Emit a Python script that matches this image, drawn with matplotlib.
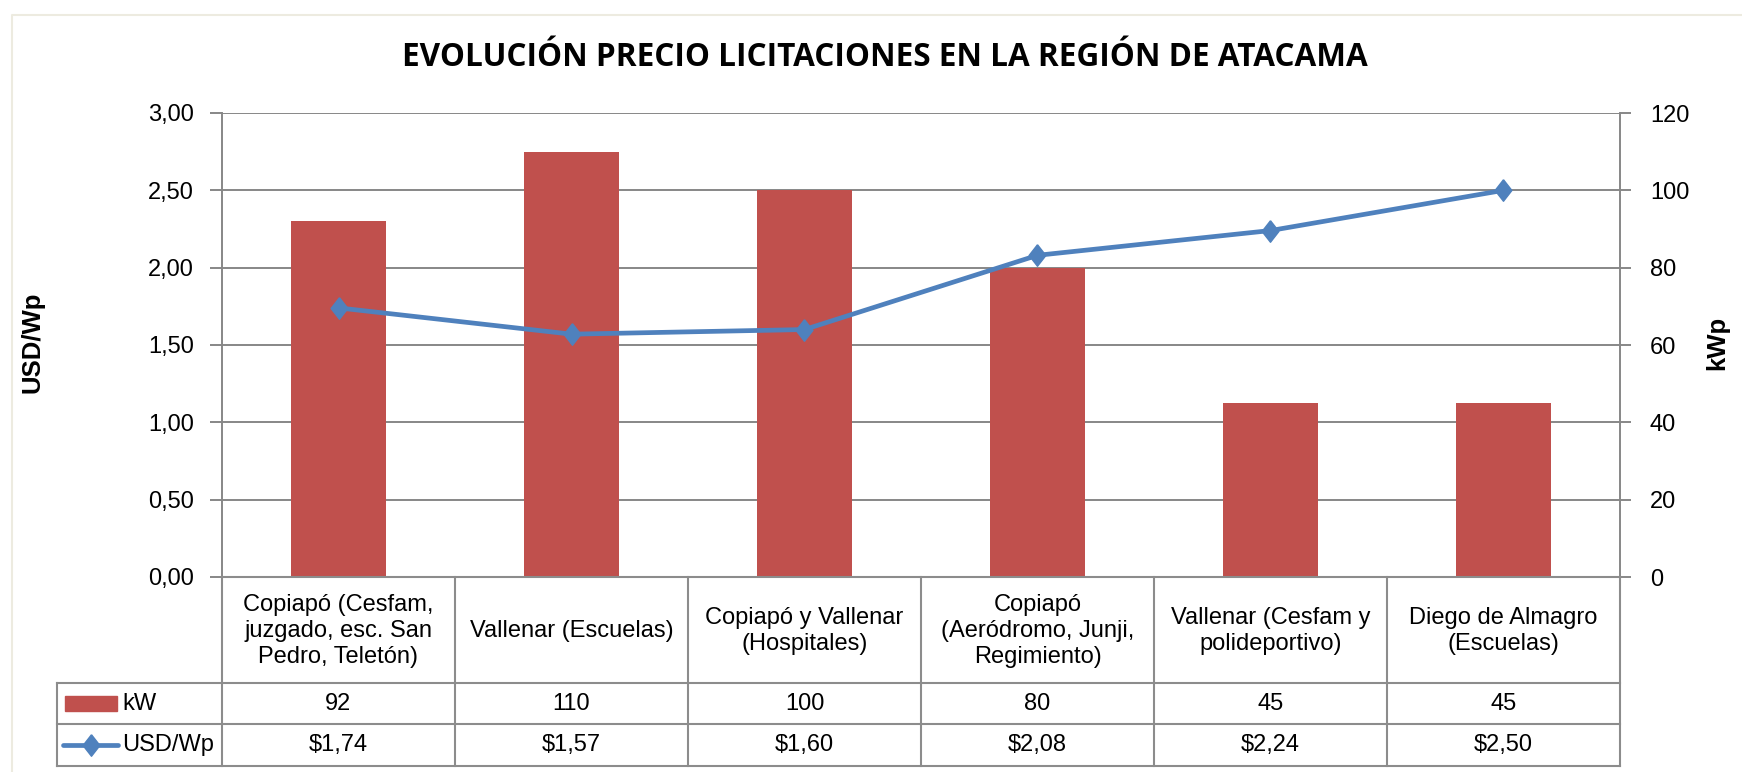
import matplotlib
matplotlib.use("Agg")
import matplotlib.pyplot as plt
import matplotlib.font_manager as fm
from matplotlib.transforms import blended_transform_factory
from matplotlib.lines import Line2D
from matplotlib.patches import Rectangle

# ---------------- data ----------------
categories = [
    "Copiapó (Cesfam,\njuzgado, esc. San\nPedro, Teletón)",
    "Vallenar (Escuelas)",
    "Copiapó y Vallenar\n(Hospitales)",
    "Copiapó\n(Aeródromo, Junji,\nRegimiento)",
    "Vallenar (Cesfam y\npolideportivo)",
    "Diego de Almagro\n(Escuelas)",
]
kw_values = [92, 110, 100, 80, 45, 45]
usd_values = [1.74, 1.57, 1.60, 2.08, 2.24, 2.50]
left_ticks = [0, 0.5, 1.0, 1.5, 2.0, 2.5, 3.0]
right_ticks = [0, 20, 40, 60, 80, 100, 120]
title = "EVOLUCIÓN PRECIO LICITACIONES EN LA REGIÓN DE ATACAMA"
series_names = ["kW", "USD/Wp"]
left_label = "USD/Wp"
right_label = "kWp"

# ---------------- fonts ----------------
BODY = ["Liberation Sans", "DejaVu Sans"]
TFONT, TSTRETCH = "Liberation Sans", "normal"
names = {f.name for f in fm.fontManager.ttflist}
cond = [(f.name, f.stretch) for f in fm.fontManager.ttflist
        if str(f.stretch) in ("condensed", "semi-condensed", "extra-condensed")]
if "Liberation Sans Narrow" in names:
    TFONT = "Liberation Sans Narrow"
else:
    for pref in ("Roboto", "Open Sans", "DejaVu Sans", "Noto Sans"):
        hits = [c for c in cond if c[0] == pref]
        if hits:
            TFONT, TSTRETCH = pref, hits[0][1]
            break
plt.rcParams["font.family"] = BODY

BAR = "#C0504D"
LINE = "#4F81BD"
GRID = "#878787"
TXT = "#000000"
FS = 17

W, H = 1742, 772
fig = plt.figure(figsize=(W / 100, H / 100), dpi=100)
fig.patch.set_facecolor("white")

def fx(px):
    return px / W

def fy(py):
    return 1 - py / H

# outer chart border (left + top visible)
fig.add_artist(Line2D([fx(12), fx(12), fx(1742)], [fy(772), fy(15), fy(15)],
                      transform=fig.transFigure, color="#EDEBE0", lw=1.5))

L, R, T, B = 222, 1620, 113, 577
ax = fig.add_axes([fx(L), fy(B), fx(R) - fx(L), fy(T) - fy(B)])
x = list(range(len(categories)))

# bars on kW scale
ax.bar(x, kw_values, width=0.41, color=BAR, zorder=3)
ax.set_ylim(0, 120)
ax.set_xlim(-0.5, len(categories) - 0.5)
ax.set_xticks([])
ax.grid(axis="y", color=GRID, lw=1.4, zorder=0)
ax.set_axisbelow(True)
for s in ("top", "bottom"):
    ax.spines[s].set_visible(False)
for s in ("left", "right"):
    ax.spines[s].set_color(GRID)
    ax.spines[s].set_linewidth(1.4)

# line on USD scale
ax2 = ax.twinx()
diamond = [(0, 1), (0.78, 0), (0, -1), (-0.78, 0), (0, 1)]
ax2.plot(x, usd_values, color=LINE, lw=3.4, marker=diamond, markersize=15.5,
         markerfacecolor=LINE, markeredgecolor=LINE, zorder=5)
ax2.set_ylim(0, 3)
for s in ax2.spines.values():
    s.set_visible(False)

# axis placement (after twinx)
ax.yaxis.tick_right()
ax.set_yticks(right_ticks)
ax.set_yticklabels([str(t) for t in right_ticks])
ax.tick_params(axis="y", direction="out", length=8, width=1.4, color=GRID,
               labelsize=FS, pad=13.5, labelcolor=TXT)
ax2.yaxis.tick_left()
ax2.set_yticks(left_ticks)
ax2.set_yticklabels([f"{t:.2f}".replace(".", ",") for t in left_ticks])
ax2.tick_params(axis="y", direction="out", length=9, width=1.4, color=GRID,
                labelsize=FS, pad=11, labelcolor=TXT)

# axis titles
fig.text(fx(33), fy(342), left_label, rotation=90, ha="center", va="center",
         fontsize=18.5, fontweight="bold", color=TXT)
fig.text(fx(1717), fy(343), right_label, rotation=90, ha="center", va="center",
         fontsize=18.5, fontweight="bold", color=TXT)

# title
fig.text(fx(885), fy(57), title, ha="center", va="center", fontsize=22.7,
         fontweight="bold", family=[TFONT, "DejaVu Sans"], fontstretch=TSTRETCH,
         color=TXT)

# ---------------- data table ----------------
tr = blended_transform_factory(ax.transData, fig.transFigure)
row_y = [577, 683, 724, 766]
TL = 57
tcol = "#8C8C8C"
tlw = 1.5
for i, ry in enumerate(row_y):
    x0 = fx(L) if i == 0 else fx(TL)
    fig.add_artist(Line2D([x0, fx(R)], [fy(ry), fy(ry)], transform=fig.transFigure,
                          color=tcol, lw=tlw))
for b in range(len(categories) + 1):
    fig.add_artist(Line2D([b - 0.5, b - 0.5], [fy(row_y[0]), fy(row_y[-1])],
                          transform=tr, color=tcol, lw=tlw))
fig.add_artist(Line2D([fx(TL), fx(TL)], [fy(row_y[1]), fy(row_y[-1])],
                      transform=fig.transFigure, color=tcol, lw=tlw))

for i, cat in enumerate(categories):
    fig.text(i, fy((row_y[0] + row_y[1]) / 2 + 1), cat, transform=tr, ha="center",
             va="center", fontsize=FS, linespacing=1.22, color=TXT)
    fig.text(i, fy((row_y[1] + row_y[2]) / 2), str(kw_values[i]), transform=tr,
             ha="center", va="center", fontsize=FS, color=TXT)
    fig.text(i, fy((row_y[2] + row_y[3]) / 2), "$" + f"{usd_values[i]:.2f}".replace(".", ","),
             transform=tr, ha="center", va="center", fontsize=FS, color=TXT)

# legend keys inside the table
ky1 = (row_y[1] + row_y[2]) / 2
fig.add_artist(Rectangle((fx(65), fy(ky1 + 7.5)), fx(117) - fx(65), fy(ky1 - 7.5) - fy(ky1 + 7.5),
                         transform=fig.transFigure, color=BAR))
fig.text(fx(122), fy(ky1), series_names[0], ha="left", va="center", fontsize=FS, color=TXT)
ky2 = (row_y[2] + row_y[3]) / 2
fig.add_artist(Line2D([fx(63), fx(118)], [fy(ky2), fy(ky2)], transform=fig.transFigure,
                      color=LINE, lw=3.4, solid_capstyle="round"))
fig.add_artist(Line2D([fx(91)], [fy(ky2)], transform=fig.transFigure,
                      color=LINE, marker=diamond, markersize=15.5, lw=0))
fig.text(fx(122), fy(ky2), series_names[1], ha="left", va="center", fontsize=FS, color=TXT)

fig.savefig("out.png", dpi=100, facecolor="white")
